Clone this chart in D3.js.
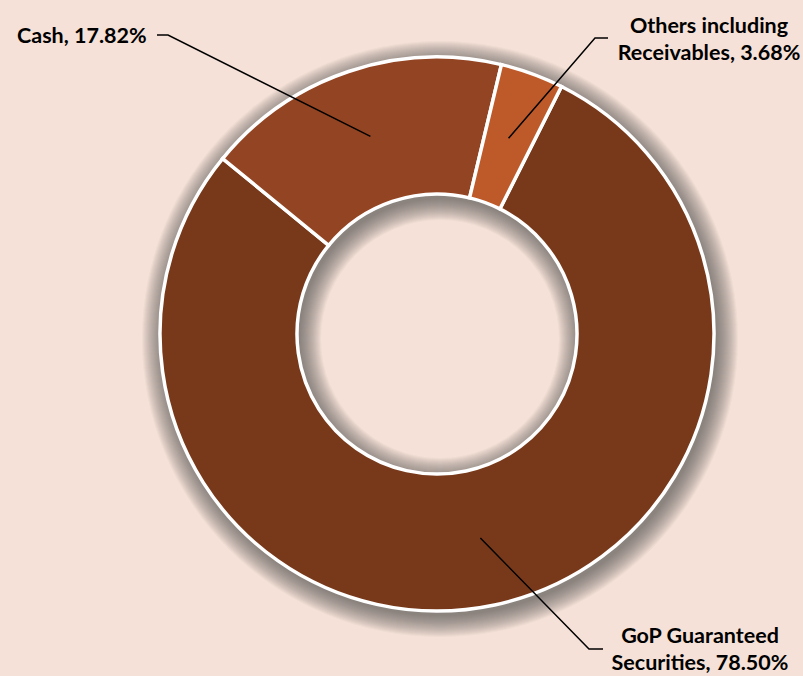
<!DOCTYPE html>
<html>
<head>
<meta charset="utf-8">
<script src="https://cdn.jsdelivr.net/npm/d3@7"></script>
<style>
  html, body { margin: 0; padding: 0; background: #F5E1D7; }
  svg { display: block; }
  text { font-family: Lato, "Open Sans", sans-serif; font-weight: 700; fill: #000; }
</style>
</head>
<body>
<svg id="chart" width="803" height="676"></svg>
<script>
// ---- data ----
const categories = ["GoP Guaranteed Securities", "Cash", "Others including Receivables"];
const values = [78.50, 17.82, 3.68];
const labelLines = [
  ["GoP Guaranteed", "Securities, 78.50%"],
  ["Cash, 17.82%"],
  ["Others including", "Receivables, 3.68%"]
];
const colors = ["#78391B", "#934423", "#BE5A29"];

// ---- layout ----
const W = 803, H = 676;
const cx = 437, cy = 334, outerR = 277, innerR = 140;
const startDeg = 26.7;

const svg = d3.select("#chart");
svg.append("rect").attr("width", W).attr("height", H).attr("fill", "#F5E1D7");

const pie = d3.pie().sort(null).value(d => d)
  .startAngle(startDeg * Math.PI / 180)
  .endAngle(startDeg * Math.PI / 180 + 2 * Math.PI);
const arcs = pie(values);
const arc = d3.arc().innerRadius(innerR).outerRadius(outerR);

const g = svg.append("g").attr("transform", `translate(${cx},${cy})`);

// soft shadow: stacked translucent rings, offset down-right
const shadowSteps = d3.range(0, 22);
g.append("g").attr("transform", "translate(3,5)")
  .selectAll("path").data(shadowSteps).join("path")
  .attr("d", k => d3.arc().innerRadius(Math.max(0, innerR - k)).outerRadius(outerR + k)
    .startAngle(0).endAngle(2 * Math.PI)())
  .attr("fill", "#555555")
  .attr("fill-opacity", 0.04);

g.append("g")
  .selectAll("path").data(arcs).join("path")
  .attr("d", arc)
  .attr("fill", (d, i) => colors[i])
  .attr("stroke", "#fff")
  .attr("stroke-width", 3.5)
  .attr("stroke-linejoin", "miter");

// label placement (page coords)
const labelLayout = [
  { x: 700, y: 643, anchor: "middle", elbow: [589, 649], tail: [603, 649] },
  { x: 17,  y: 43,  anchor: "start",  elbow: [168, 35],  tail: [157, 35] },
  { x: 709, y: 33,  anchor: "middle", elbow: [595, 38],  tail: [608, 38] }
];
const lineH = 27;

arcs.forEach((d, i) => {
  const c = arc.centroid(d);
  const L = labelLayout[i];
  svg.append("polyline")
    .attr("points", [[cx + c[0], cy + c[1]], L.elbow, L.tail].map(p => p.join(",")).join(" "))
    .attr("fill", "none").attr("stroke", "#000").attr("stroke-width", 1.5);
  const t = svg.append("text")
    .attr("x", L.x).attr("y", L.y)
    .attr("text-anchor", L.anchor)
    .attr("font-size", 21.5)
    .attr("font-weight", 800);
  labelLines[i].forEach((s, j) => {
    t.append("tspan").attr("x", L.x).attr("dy", j === 0 ? 0 : lineH).text(s);
  });
});
</script>
</body>
</html>
